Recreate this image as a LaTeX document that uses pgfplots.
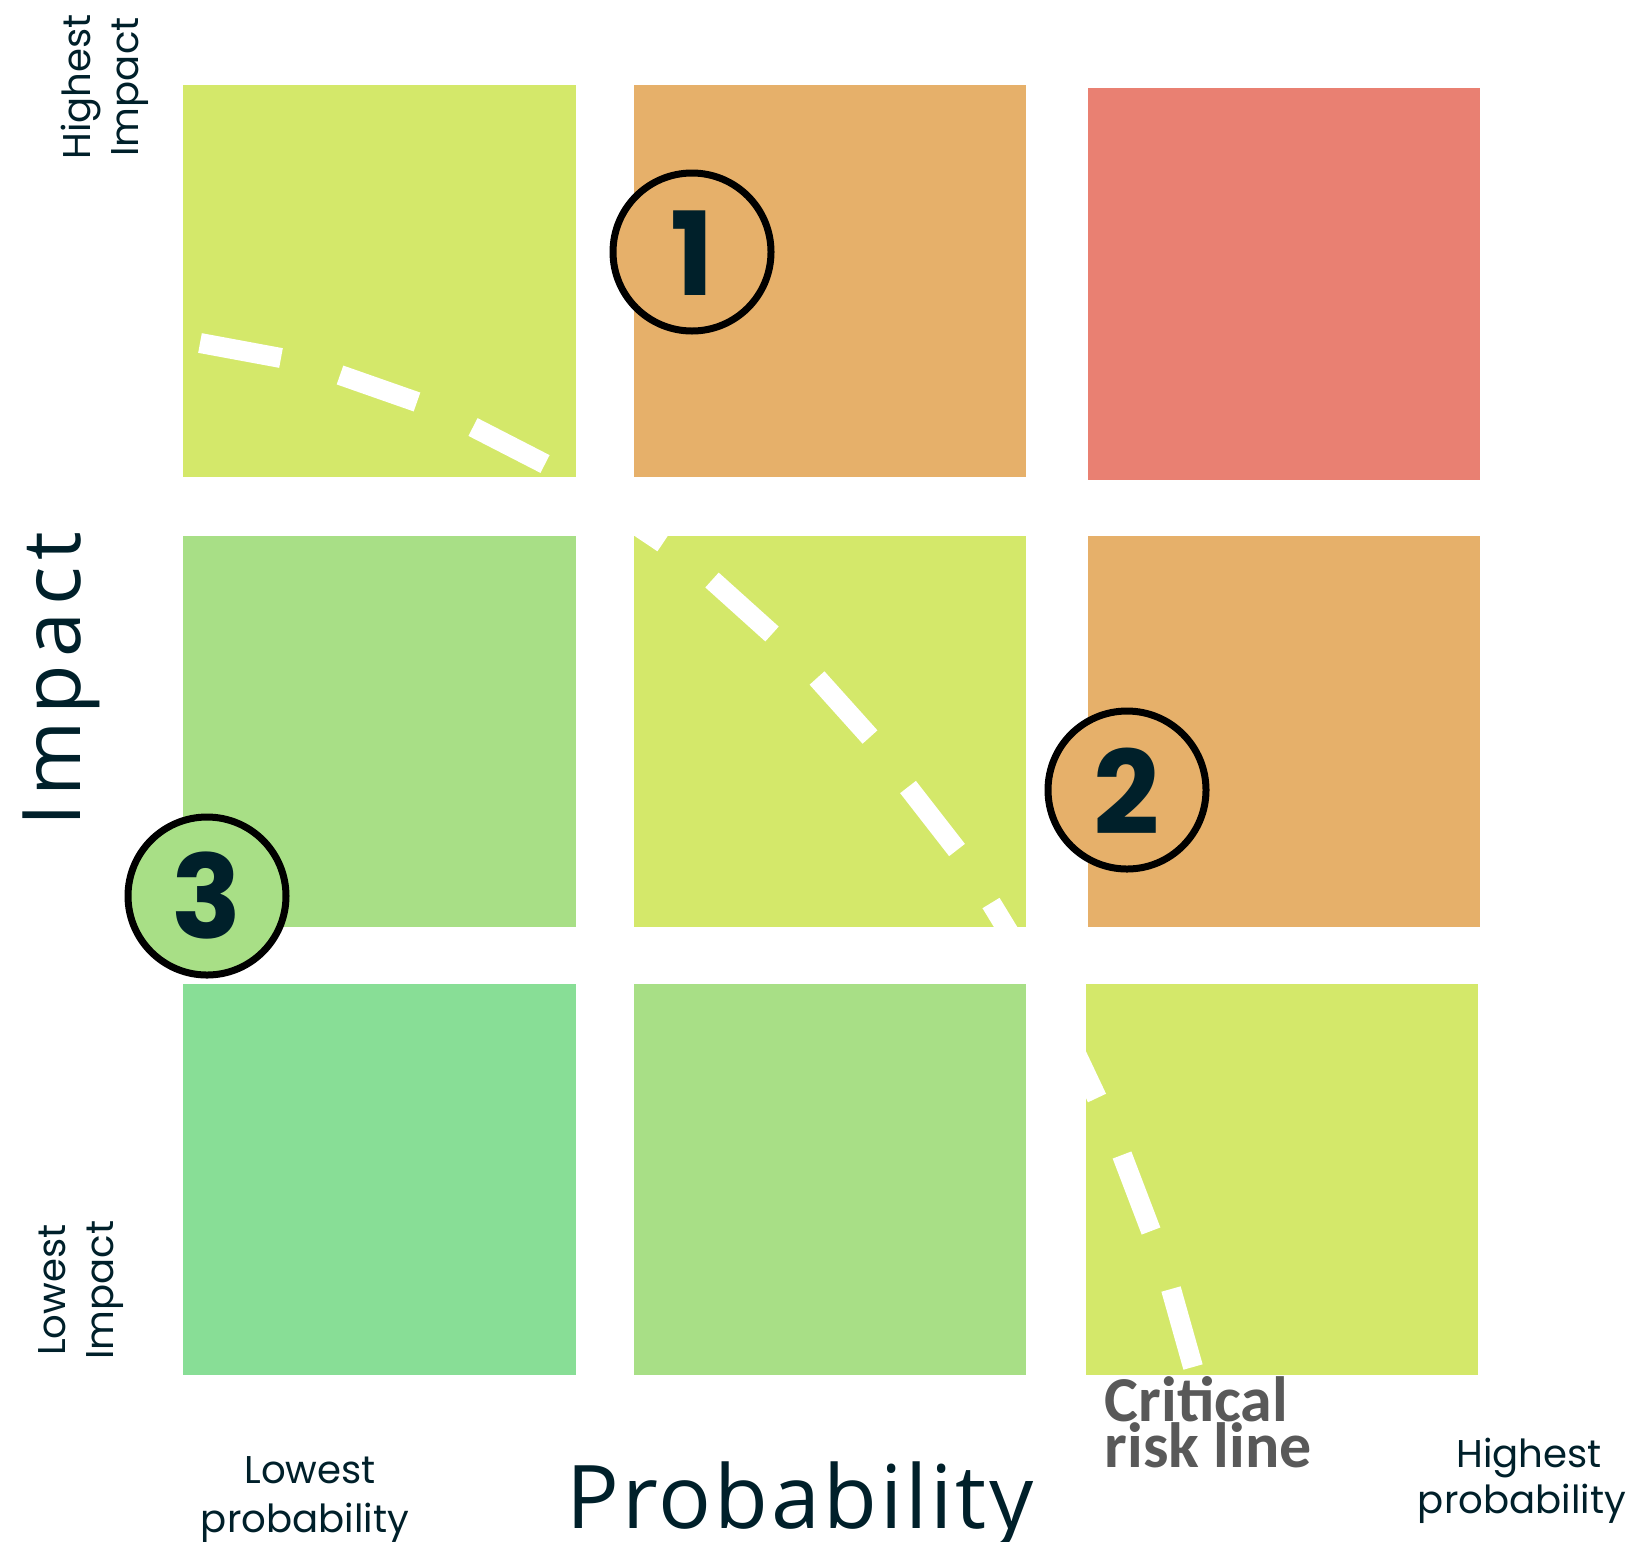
\documentclass[border=0pt]{standalone}
\usepackage{fontspec}
\usepackage{pgfplots}
\pgfplotsset{compat=1.18}
\setmainfont{Poppins}
\newfontfamily\impfont[LetterSpace=8.6]{Open Sans}
\newfontfamily\probfont[LetterSpace=3.3]{Open Sans}
\newfontfamily\critfont{Carlito}
\definecolor{txt}{HTML}{00202A}
\definecolor{cYel}{HTML}{D4E86A}
\definecolor{cOra}{HTML}{E6B06A}
\definecolor{cRed}{HTML}{E98072}
\definecolor{cLgr}{HTML}{A8DF86}
\definecolor{cGrn}{HTML}{88DE96}
\definecolor{crit}{HTML}{595959}
\begin{document}
\begin{tikzpicture}
\begin{axis}[
  name=ax,
  width=163.2mm, height=154.1mm, scale only axis,
  xmin=0, xmax=1632, ymin=0, ymax=1541, y dir=reverse,
  hide axis, clip=false,
  unbounded coords=jump,
  digit/.style={only marks, mark=text, text mark={#1}, text mark as node=true,
    text mark style={text=txt, font=\fontsize{33pt}{33pt}\selectfont\bfseries, anchor=center, inner sep=0pt}},
]
% --- risk cells (probability column, impact row) ---
% top row (highest impact)
\addplot[draw=none, fill=cYel] coordinates {(183,85) (576,85) (576,477) (183,477)};
\addplot[draw=none, fill=cOra] coordinates {(634,85) (1026,85) (1026,477) (634,477)};
\addplot[draw=none, fill=cRed] coordinates {(1088,88) (1480,88) (1480,480) (1088,480)};
% middle row
\addplot[draw=none, fill=cLgr] coordinates {(183,536) (576,536) (576,927) (183,927)};
\addplot[draw=none, fill=cYel] coordinates {(634,536) (1026,536) (1026,927) (634,927)};
\addplot[draw=none, fill=cOra] coordinates {(1088,536) (1480,536) (1480,927) (1088,927)};
% bottom row (lowest impact)
\addplot[draw=none, fill=cGrn] coordinates {(183,984) (576,984) (576,1375) (183,1375)};
\addplot[draw=none, fill=cLgr] coordinates {(634,984) (1026,984) (1026,1375) (634,1375)};
\addplot[draw=none, fill=cYel] coordinates {(1086,984) (1478,984) (1478,1375) (1086,1375)};
% --- critical risk line (dashes) ---
\addplot[white, line width=2mm] coordinates {
 (200,343) (281,358) (nan,nan)
 (340,375) (417,402) (nan,nan)
 (473,427) (545,464) (nan,nan)
 (596,498) (663,543) (nan,nan)
 (712,580) (772,634) (nan,nan)
 (817,678) (870,737) (nan,nan)
 (908,787) (957,850) (nan,nan)
 (991,903) (1033,972) (nan,nan)
 (1062,1024) (1097,1098) (nan,nan)
 (1122,1155) (1151,1231) (nan,nan)
 (1171,1289) (1193,1367)
};
% --- numbered risks ---
\addplot[only marks, mark=*, mark size=7.9mm, mark options={fill=cOra, draw=black, line width=0.7mm}] coordinates {(692,252)};
\addplot[only marks, mark=*, mark size=7.9mm, mark options={fill=cOra, draw=black, line width=0.7mm}] coordinates {(1127,790)};
\addplot[only marks, mark=*, mark size=7.9mm, mark options={fill=cLgr, draw=black, line width=0.7mm}] coordinates {(207,896)};
\addplot[digit=1] coordinates {(692,253)};
\addplot[digit=2] coordinates {(1127,791)};
\addplot[digit=3] coordinates {(207,896)};
% --- labels ---
\node[text=txt, font=\fontsize{11pt}{13pt}\selectfont, rotate=90, anchor=base, inner sep=0pt] at (axis cs:90,87) {Highest};
\node[text=txt, font=\fontsize{11pt}{13pt}\selectfont, rotate=90, anchor=base, inner sep=0pt] at (axis cs:138,87) {Impact};
\node[text=txt, font=\fontsize{11pt}{13pt}\selectfont, rotate=90, anchor=base, inner sep=0pt] at (axis cs:65,1290) {Lowest};
\node[text=txt, font=\fontsize{11pt}{13pt}\selectfont, rotate=90, anchor=base, inner sep=0pt] at (axis cs:113,1290) {Impact};
\node[text=txt, font=\fontsize{11pt}{13pt}\selectfont, anchor=base, inner sep=0pt] at (axis cs:310,1483) {Lowest};
\node[text=txt, font=\fontsize{11pt}{13pt}\selectfont, anchor=base, inner sep=0pt] at (axis cs:305,1532) {probability};
\node[text=txt, font=\fontsize{11pt}{13pt}\selectfont, anchor=base, inner sep=0pt] at (axis cs:1529,1467) {Highest};
\node[text=txt, font=\fontsize{11pt}{13pt}\selectfont, anchor=base, inner sep=0pt] at (axis cs:1522,1513) {probability};
\node[text=crit, font=\fontsize{18.2pt}{13.1pt}\selectfont\critfont\bfseries, align=left, anchor=south west, inner sep=0pt] at (axis cs:1104,1469) {Critical\\risk line};
\node[text=txt, font=\fontsize{23pt}{23pt}\selectfont\impfont, rotate=90, anchor=base, inner sep=0pt] at (axis cs:80,679) {Impact};
\node[text=txt, font=\fontsize{25pt}{25pt}\selectfont\probfont, anchor=base, inner sep=0pt] at (axis cs:800,1528) {Probability};
\end{axis}
\pgfresetboundingbox
\path (ax.south west) rectangle (ax.north east);
\end{tikzpicture}
\end{document}
